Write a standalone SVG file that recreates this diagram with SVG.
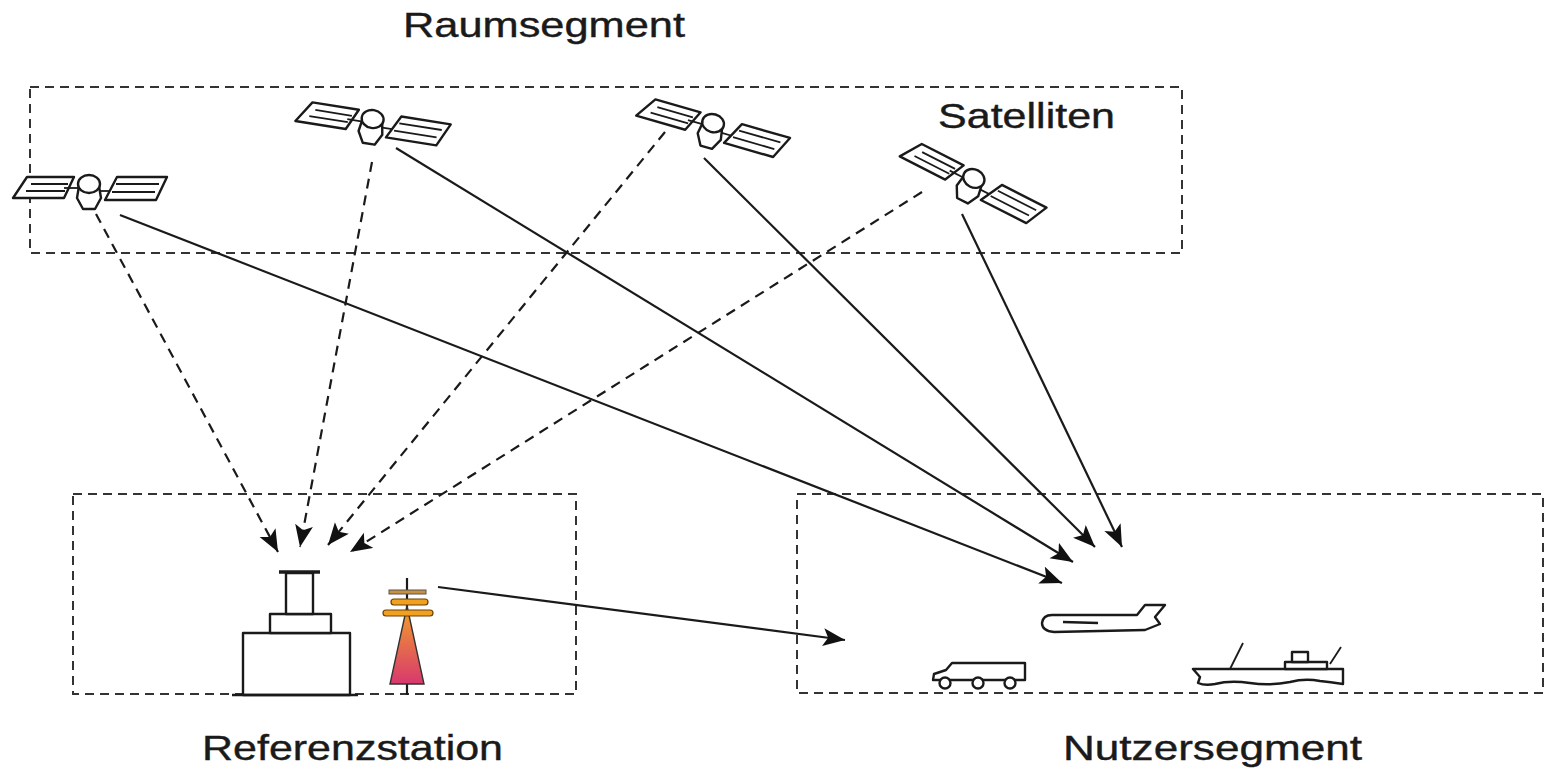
<svg xmlns="http://www.w3.org/2000/svg" width="1547" height="770" viewBox="0 0 1547 770">
  <style>
    .seg { fill: none; stroke: #333; stroke-width: 2; stroke-dasharray: 9 6; }
    .lbl { font-family: "Liberation Sans", Arial, sans-serif; font-size: 35px; fill: #1a1a1a; stroke: #1a1a1a; stroke-width: 0.4; }
    .solid { fill: none; stroke: #1a1a1a; stroke-width: 2.2; marker-end: url(#arrow); }
    .dash { fill: none; stroke: #1a1a1a; stroke-width: 2.2; stroke-dasharray: 10 7; marker-end: url(#arrow); }
    .ink { fill: #fff; stroke: #1a1a1a; stroke-width: 2.4; stroke-linejoin: round; }
    .thin { fill: none; stroke: #1a1a1a; stroke-width: 1.8; }
  </style>
  <defs>
    <marker id="arrow" markerUnits="userSpaceOnUse" markerWidth="24" markerHeight="20" refX="22" refY="9" orient="auto">
      <path d="M0,0 L22,9 L0,18 L5,9 Z" fill="#111"/>
    </marker>
    <linearGradient id="mastGrad" x1="0" y1="0" x2="0" y2="1">
      <stop offset="0" stop-color="#f2a22a"/>
      <stop offset="1" stop-color="#d8386e"/>
    </linearGradient>
    <!-- satellite drawn around the centre of its body -->
    <g id="sat">
      <polygon class="ink" points="-62,-11 -15,-11 -25,10 -76,10"/>
      <path class="thin" d="M-58,-4 L-21,-4 M-63,3 L-24,3"/>
      <line class="thin" x1="-25" y1="0" x2="-11" y2="0"/>
      <polygon class="ink" points="-10,-2 10,-2 12,10 6,21 -6,21 -12,10"/>
      <ellipse class="ink" cx="0" cy="-4" rx="11" ry="9"/>
      <line class="thin" x1="11" y1="3" x2="24" y2="3"/>
      <polygon class="ink" points="28,-11 78,-11 67,12 16,12"/>
      <path class="thin" d="M27,-4 L70,-4 M23,4 L66,4"/>
    </g>
  </defs>

  <!-- segment frames -->
  <g id="frames">
    <rect class="seg" x="30" y="87" width="1152" height="166"/>
    <rect class="seg" x="73" y="494" width="503" height="200"/>
    <rect class="seg" x="797" y="494" width="746" height="199"/>
  </g>

  <!-- labels -->
  <g id="labels">
    <text class="lbl" x="403" y="37" textLength="282" lengthAdjust="spacingAndGlyphs">Raumsegment</text>
    <text class="lbl" x="938" y="128" textLength="177" lengthAdjust="spacingAndGlyphs">Satelliten</text>
    <text class="lbl" x="202" y="760" textLength="301" lengthAdjust="spacingAndGlyphs">Referenzstation</text>
    <text class="lbl" x="1063" y="760" textLength="299" lengthAdjust="spacingAndGlyphs">Nutzersegment</text>
  </g>

  <!-- signal paths -->
  <g id="connectors">
    <line class="dash" x1="96" y1="214" x2="278" y2="552"/>
    <line class="dash" x1="372" y1="162" x2="300" y2="547"/>
    <line class="dash" x1="665" y1="132" x2="328" y2="545"/>
    <line class="dash" x1="922" y1="192" x2="350" y2="552"/>
    <line class="solid" x1="120" y1="215" x2="1062" y2="583"/>
    <line class="solid" x1="396" y1="148" x2="1073" y2="562"/>
    <line class="solid" x1="704" y1="158" x2="1095" y2="547"/>
    <line class="solid" x1="962" y1="214" x2="1122" y2="547"/>
    <line class="solid" x1="438" y1="587" x2="845" y2="640"/>
  </g>

  <!-- satellites -->
  <g id="sat1"><use href="#sat" transform="translate(89,188)"/></g>
  <g id="sat2"><use href="#sat" transform="translate(372,123) rotate(9)"/></g>
  <g id="sat3"><use href="#sat" transform="translate(712,127) rotate(16)"/></g>
  <g id="sat4"><use href="#sat" transform="translate(972,182) rotate(27)"/></g>

  <!-- reference receiver building -->
  <g id="station">
    <rect class="ink" x="243" y="633" width="107" height="62"/>
    <rect class="ink" x="270" y="614" width="61" height="19"/>
    <rect class="ink" x="286" y="573" width="27" height="41"/>
    <line x1="279" y1="572" x2="320" y2="572" stroke="#1a1a1a" stroke-width="3.5"/>
    <line x1="232" y1="695" x2="358" y2="695" stroke="#1a1a1a" stroke-width="2.4"/>
  </g>

  <!-- transmitter mast -->
  <g id="mast">
    <line x1="407" y1="578" x2="407" y2="695" stroke="#1a1a1a" stroke-width="2.2"/>
    <polygon points="407,606 424,684 390,684" fill="url(#mastGrad)" stroke="#333" stroke-width="1.4"/>
    <rect x="389" y="590" width="37" height="4" fill="#c89040" stroke="#555" stroke-width="1"/>
    <rect x="391" y="599" width="37" height="6" rx="3" fill="#f2a020" stroke="#6a4000" stroke-width="1.2"/>
    <rect x="383" y="610" width="50" height="6" rx="3" fill="#f2a020" stroke="#6a4000" stroke-width="1.2"/>
  </g>

  <!-- aircraft -->
  <g id="aircraft">
    <path class="ink" d="M1052,615 L1137,615 L1145,605 L1165,605 L1155,617 L1160,624 L1145,630 L1054,632 Q1042,631 1042,623 Q1043,615 1052,615 Z"/>
    <line x1="1063" y1="622" x2="1098" y2="623" stroke="#1a1a1a" stroke-width="2.4"/>
  </g>

  <!-- truck -->
  <g id="truck">
    <path class="ink" d="M952,663 L1025,663 L1025,680 L933,680 L934,674 L946,670 Z"/>
    <circle class="ink" cx="945" cy="683" r="5.5"/>
    <circle class="ink" cx="978" cy="683" r="5.5"/>
    <circle class="ink" cx="1010" cy="683" r="5.5"/>
  </g>

  <!-- ship -->
  <g id="ship">
    <path class="ink" d="M1193,669 L1343,669 L1343,684 Q1330,682 1320,681 Q1305,678 1290,682 Q1270,686 1250,683 Q1230,680 1215,684 Q1205,686 1198,683 L1200,677 Z"/>
    <rect class="ink" x="1285" y="662" width="42" height="7"/>
    <rect class="ink" x="1292" y="652" width="16" height="10"/>
    <line class="thin" x1="1230" y1="669" x2="1243" y2="643"/>
    <line class="thin" x1="1330" y1="664" x2="1341" y2="647"/>
  </g>
</svg>
